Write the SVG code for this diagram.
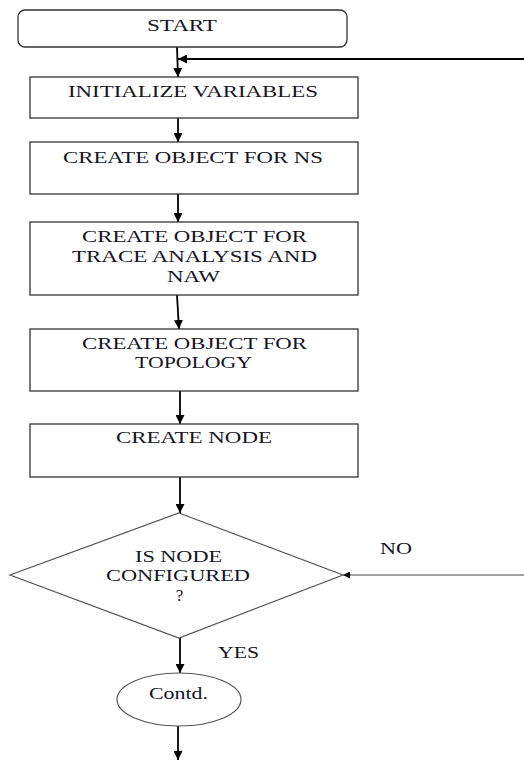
<svg xmlns="http://www.w3.org/2000/svg" width="524" height="760" viewBox="0 0 524 760" font-family="Liberation Serif, DejaVu Serif, serif">
  <defs>
    <style>
      .box { fill: #ffffff; stroke: #333333; stroke-width: 1.3; }
      .dia { fill: #ffffff; stroke: #555555; stroke-width: 1.2; }
      .lbl { font-size: 17px; fill: #151525; text-anchor: middle; }
      .edge { fill: none; stroke: #000000; stroke-width: 1.8; }
      .thin { fill: none; stroke: #444444; stroke-width: 1.2; }
    </style>
    <marker id="arrow" viewBox="0 0 10 10" refX="10" refY="5" markerWidth="9" markerHeight="9" markerUnits="userSpaceOnUse" orient="auto">
      <path d="M0,0 L10,5 L0,10 z" fill="#000000"/>
    </marker>
    <marker id="arrowSmall" viewBox="0 0 10 10" refX="10" refY="5" markerWidth="7" markerHeight="7" markerUnits="userSpaceOnUse" orient="auto">
      <path d="M0,0 L10,5 L0,10 z" fill="#000000"/>
    </marker>
  </defs>

  <rect width="524" height="760" fill="#ffffff"/>

  <!-- connectors -->
  <g id="connectors">
    <line class="edge" x1="177" y1="47" x2="178" y2="77" marker-end="url(#arrow)"/>
    <line class="edge" x1="524" y1="59" x2="178" y2="59" marker-end="url(#arrow)"/>
    <line class="edge" x1="178" y1="118" x2="178" y2="142" marker-end="url(#arrow)"/>
    <line class="edge" x1="178" y1="194" x2="178" y2="222" marker-end="url(#arrow)"/>
    <line class="edge" x1="177" y1="295" x2="179" y2="329" marker-end="url(#arrow)"/>
    <line class="edge" x1="180" y1="391" x2="180" y2="424" marker-end="url(#arrow)"/>
    <line class="edge" x1="180" y1="477" x2="180" y2="513" marker-end="url(#arrow)"/>
    <line class="thin" x1="524" y1="575" x2="343" y2="575" marker-end="url(#arrowSmall)"/>
    <line class="edge" x1="180" y1="638" x2="180" y2="673" marker-end="url(#arrow)"/>
    <line class="edge" x1="178" y1="726" x2="178" y2="760" marker-end="url(#arrow)"/>
    <text class="lbl" x="396" y="554" textLength="32" lengthAdjust="spacingAndGlyphs">NO</text>
    <text class="lbl" x="238.5" y="658" textLength="41" lengthAdjust="spacingAndGlyphs">YES</text>
  </g>

  <!-- nodes -->
  <g id="start">
    <rect class="box" x="18" y="10" width="329" height="37" rx="7" ry="7"/>
    <text class="lbl" x="182" y="31" textLength="70" lengthAdjust="spacingAndGlyphs">START</text>
  </g>

  <g id="init-vars">
    <rect class="box" x="30" y="77" width="328" height="41"/>
    <text class="lbl" x="193" y="97" textLength="250" lengthAdjust="spacingAndGlyphs">INITIALIZE VARIABLES</text>
  </g>

  <g id="obj-ns">
    <rect class="box" x="30" y="142" width="328" height="52"/>
    <text class="lbl" x="193" y="163" textLength="260" lengthAdjust="spacingAndGlyphs">CREATE OBJECT FOR NS</text>
  </g>

  <g id="obj-trace">
    <rect class="box" x="30" y="222" width="328" height="73"/>
    <text class="lbl" x="194.5" y="242" textLength="225" lengthAdjust="spacingAndGlyphs">CREATE OBJECT FOR</text>
    <text class="lbl" x="194.5" y="262" textLength="245" lengthAdjust="spacingAndGlyphs">TRACE ANALYSIS AND</text>
    <text class="lbl" x="193.5" y="282" textLength="53" lengthAdjust="spacingAndGlyphs">NAW</text>
  </g>

  <g id="obj-topology">
    <rect class="box" x="30" y="329" width="328" height="62"/>
    <text class="lbl" x="194.5" y="349" textLength="225" lengthAdjust="spacingAndGlyphs">CREATE OBJECT FOR</text>
    <text class="lbl" x="193.5" y="368" textLength="117" lengthAdjust="spacingAndGlyphs">TOPOLOGY</text>
  </g>

  <g id="create-node">
    <rect class="box" x="30" y="424" width="328" height="53"/>
    <text class="lbl" x="194" y="443" textLength="156" lengthAdjust="spacingAndGlyphs">CREATE NODE</text>
  </g>

  <g id="decision">
    <polygon class="dia" points="179,513 343,575 179,638 10,575"/>
    <text class="lbl" x="178.5" y="562" textLength="87" lengthAdjust="spacingAndGlyphs">IS NODE</text>
    <text class="lbl" x="178" y="581" textLength="144" lengthAdjust="spacingAndGlyphs">CONFIGURED</text>
    <text class="lbl" x="179.5" y="601">?</text>
  </g>

  <g id="contd">
    <ellipse class="dia" cx="179" cy="699.5" rx="62" ry="26.5"/>
    <text class="lbl" x="178.5" y="699" textLength="59" lengthAdjust="spacingAndGlyphs">Contd.</text>
  </g>
</svg>
